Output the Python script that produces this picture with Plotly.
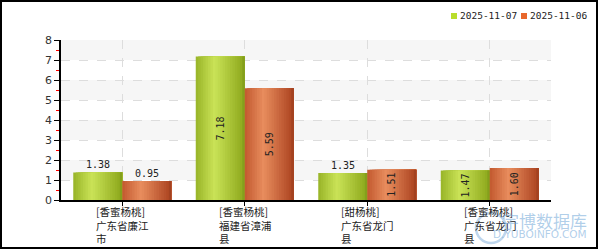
import plotly.graph_objects as go

categories = ["[香蜜杨桃]广东省廉江市", "[香蜜杨桃]福建省漳浦县", "[甜杨桃]广东省龙门县", "[香蜜杨桃]广东省龙门县"]
tick_labels = ["[香蜜杨桃]<br>广东省廉江<br>市", "[香蜜杨桃]<br>福建省漳浦<br>县", "[甜杨桃]<br>广东省龙门<br>县", "[香蜜杨桃]<br>广东省龙门<br>县"]
series_names = ["2025-11-07", "2025-11-06"]
values_1107 = [1.38, 7.18, 1.35, 1.47]
values_1106 = [0.95, 5.59, 1.51, 1.60]

L, R, T, B = 61, 49, 40, 50
W, H = 600, 250
PW, PH = W - L - R, H - T - B


def px2x(px):
    return (px - L) / PW


def py2y(py):
    return (H - B - py) / PH


def hex2rgb(h):
    h = h.lstrip('#')
    return tuple(int(h[i:i + 2], 16) for i in (0, 2, 4))


def interp(stops, t):
    for i in range(len(stops) - 1):
        t0, c0 = stops[i]
        t1, c1 = stops[i + 1]
        if t0 <= t <= t1:
            f = (t - t0) / (t1 - t0) if t1 > t0 else 0
            a, b = hex2rgb(c0), hex2rgb(c1)
            return 'rgb(%d,%d,%d)' % tuple(round(a[k] + (b[k] - a[k]) * f) for k in range(3))
    return stops[-1][1]


green_stops = [(0, '#98b428'), (0.38, '#cae357'), (0.92, '#93ae22'), (1, '#7d9819')]
orange_stops = [(0, '#c2592f'), (0.38, '#e88d5e'), (0.92, '#b34c27'), (1, '#9c3e1e')]
legend_colors = ['#b9dd2c', '#e8672c']

fig = go.Figure()

bw = 0.4
N = 20
series = [(values_1107, green_stops, -bw), (values_1106, orange_stops, 0.0)]
for vals, stops, base in series:
    for k in range(N):
        t = (k + 0.5) / N
        fig.add_trace(go.Bar(
            x=categories, y=vals,
            offset=base + k * bw / N, width=bw - k * bw / N,
            marker=dict(color=interp(stops, t), line=dict(width=0)),
            showlegend=False, hoverinfo='skip'))

annotations = []
label_font = dict(family="DejaVu Sans Mono", size=10, color="#222222")
for vals, sgn in [(values_1107, -1), (values_1106, 1)]:
    for c, v in zip(categories, vals):
        if v > 1.4:
            annotations.append(dict(x=c, y=v / 2, xref='x', yref='y', text='%.2f' % v,
                                    textangle=-90, showarrow=False, xshift=sgn * 24.5,
                                    font=label_font))
        else:
            annotations.append(dict(x=c, y=v, xref='x', yref='y', text='%.2f' % v,
                                    showarrow=False, xshift=sgn * 24.5, yanchor='bottom',
                                    yshift=0, font=label_font))

for c, lab in zip(categories, tick_labels):
    annotations.append(dict(x=c, y=0, xref='x', yref='paper', text=lab, showarrow=False,
                            xanchor='left', yanchor='top', align='left', xshift=-28, yshift=-2,
                            font=dict(family="Noto Sans CJK SC", size=10.5, color="#222222")))

# legend (custom)
shapes = []
leg_x = [451, 521]
for name, col, lx in zip(series_names, legend_colors, leg_x):
    shapes.append(dict(type='rect', xref='paper', yref='paper',
                       x0=px2x(lx), x1=px2x(lx + 6), y0=py2y(19), y1=py2y(13),
                       fillcolor=col, line=dict(width=0)))
    annotations.append(dict(x=px2x(lx + 7), y=py2y(15.5), xref='paper', yref='paper',
                            text=name, showarrow=False, xanchor='left', yanchor='middle',
                            font=dict(family="DejaVu Sans Mono", size=9.5, color="#222222")))

# alternating bands
for y0 in [1, 3, 5, 7]:
    shapes.append(dict(type='rect', xref='paper', yref='y', x0=0, x1=1, y0=y0, y1=y0 + 1,
                       fillcolor='#f6f6f6', line=dict(width=0), layer='below'))

# outer border
shapes.append(dict(type='rect', xref='paper', yref='paper',
                   x0=px2x(1), x1=px2x(597), y0=py2y(248), y1=py2y(1),
                   line=dict(color='black', width=2), fillcolor='rgba(0,0,0,0)'))

# watermark
shapes.append(dict(type='circle', xref='paper', yref='paper',
                   x0=px2x(476), x1=px2x(506), y0=py2y(243), y1=py2y(213),
                   line=dict(color='rgba(110,165,215,0.45)', width=2.5), fillcolor='rgba(0,0,0,0)'))
annotations.append(dict(x=px2x(589), y=py2y(220), xref='paper', yref='paper', text='宇博数据库',
                        showarrow=False, xanchor='right', yanchor='middle',
                        font=dict(family="Noto Sans CJK SC", size=17, color='rgba(110,165,215,0.55)')))
annotations.append(dict(x=px2x(589), y=py2y(234), xref='paper', yref='paper', text='D.YUBOINFO.COM',
                        showarrow=False, xanchor='right', yanchor='middle',
                        font=dict(family="DejaVu Sans", size=10.5, color='rgba(110,165,215,0.55)')))

fig.update_layout(
    width=W, height=H, margin=dict(l=L, r=R, t=T, b=B),
    paper_bgcolor='white', plot_bgcolor='white',
    barmode='overlay', showlegend=False,
    annotations=annotations, shapes=shapes,
    font=dict(family="DejaVu Sans Mono", size=10, color="#333333"),
)
fig.update_xaxes(type='category', categoryorder='array', categoryarray=categories,
                 range=[-0.5, 3.5], showticklabels=False, ticks='outside', ticklen=4,
                 tickcolor='black', showline=True, linecolor='black', linewidth=1.5,
                 showgrid=True, gridcolor='#dddddd', griddash='dash', gridwidth=1, zeroline=False)
fig.update_yaxes(range=[0, 8], dtick=1, ticks='outside', ticklen=5, tickcolor='black',
                 showline=True, linecolor='black', linewidth=1.5,
                 showgrid=True, gridcolor='#dddddd', griddash='dash', zeroline=False,
                 tickfont=dict(family="DejaVu Sans", size=11, color='#333333'),
                 minor=dict(dtick=0.5, ticks='outside', ticklen=3, tickcolor='red', showgrid=False))

fig.write_html("out.html")
